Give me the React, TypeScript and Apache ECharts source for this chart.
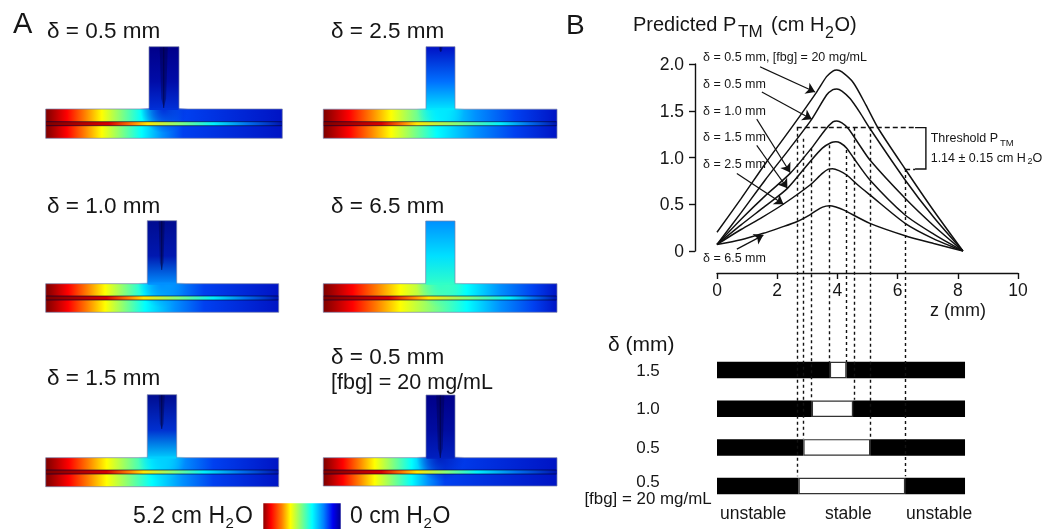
import React, { useEffect, useRef } from "react";
import * as echarts from "echarts";

const SANS = '"Liberation Sans", Arial, sans-serif';
const INK = "#161616";

// ---- Panel B, curves: [z (mm), predicted P_TM (cm H2O)]
const curveFbg = [[0,0.2],[0.8,0.56],[1.66,0.96],[2.5,1.33],[3.31,1.7],[3.64,1.865],[3.85,1.925],[3.98,1.936],[4.15,1.915],[4.53,1.8],[4.95,1.56],[5.36,1.31],[6.25,0.877],[7.2,0.43],[8.17,0]];
const curve05 = [[0,0.07],[0.8,0.41],[1.6,0.76],[2.4,1.09],[3.15,1.41],[3.64,1.668],[3.85,1.725],[3.98,1.733],[4.15,1.71],[4.42,1.63],[4.75,1.48],[5.08,1.31],[6.25,0.76],[7.2,0.36],[8.17,0]];
const curve10 = [[0,0.07],[0.8,0.34],[1.6,0.59],[2.43,0.83],[3.14,1.1],[3.59,1.294],[3.85,1.38],[3.98,1.39],[4.15,1.37],[4.36,1.31],[4.7,1.15],[5.08,0.973],[6.25,0.564],[7.2,0.27],[8.17,0]];
const curve15 = [[0,0.07],[0.8,0.28],[1.6,0.48],[2.34,0.67],[3.09,0.955],[3.5,1.1],[3.8,1.16],[3.95,1.169],[4.1,1.155],[4.31,1.1],[4.55,0.99],[5.08,0.76],[6.25,0.385],[7.2,0.18],[8.17,0]];
const curve25 = [[0,0.07],[0.8,0.23],[1.5,0.36],[2.2,0.5],[3.09,0.706],[3.5,0.83],[3.7,0.875],[3.84,0.88],[4.05,0.86],[4.31,0.813],[4.7,0.7],[5.08,0.6],[6.25,0.296],[7.2,0.13],[8.17,0]];
const curve65 = [[0,0.07],[0.8,0.12],[1.54,0.189],[2.1,0.25],[2.65,0.313],[3.1,0.39],[3.42,0.456],[3.62,0.48],[3.75,0.485],[3.95,0.47],[4.2,0.44],[5.08,0.296],[6.25,0.164],[7.2,0.08],[8.17,0]];
const curves = [curveFbg, curve05, curve10, curve15, curve25, curve65];

const yTicks = ["0", "0.5", "1.0", "1.5", "2.0"];
const thresholdHigh = 1.319;
const thresholdLow = 0.877;

// z, top P, bottom (below the axis, in the same scale)
const dropLines = [[2.65,1.319,-2.41],[2.86,1.2,-2.01],[3.13,1.1,-1.59],[3.72,1.13,-1.19],[4.3,1.08,-1.19],[4.55,1.319,-1.59],[5.08,1.319,-2.01],[6.25,0.877,-2.41]];

// arrows from a label to its curve: z0, P0, z1, P1
const arrows = [[1.43,1.97,3.26,1.7],[1.49,1.7,3.15,1.41],[1.32,1.41,2.43,0.84],[1.32,1.13,2.34,0.67],[0.66,0.83,2.21,0.5],[0.66,0.02,1.54,0.17]];

const curveLabels = ["δ = 0.5 mm, [fbg] = 20 mg/mL", "δ = 0.5 mm", "δ = 1.0 mm", "δ = 1.5 mm", "δ = 2.5 mm", "δ = 6.5 mm"];

// ---- Panel B, stability bars
const barCategories = ["1.5", "1.0", "0.5", "0.5 fbg"];
const stableStart = [3.75, 3.15, 2.87, 2.71];
const stableEnd = [4.3, 4.52, 5.09, 6.25];
const barEnd = 8.24;

// ---- Panel A
const panelTitles = ["δ = 0.5 mm", "δ = 2.5 mm", "δ = 1.0 mm", "δ = 6.5 mm", "δ = 1.5 mm", "δ = 0.5 mm"];
const channelYellow = [0.237, 0.29, 0.255, 0.33, 0.262, 0.22];
const channelCyan = [0.405, 0.486, 0.426, 0.614, 0.455, 0.378];
const channelBlue = [0.58, 0.82, 0.68, 0.9, 0.72, 0.52];
const lumenYellow = [0.43, 0.4, 0.42, 0.45, 0.42, 0.4];
const lumenCyan = [0.71, 0.76, 0.72, 0.8, 0.68, 0.66];
const stemTop = ["#00008a", "#0010c4", "#000c90", "#0090ff", "#000c90", "#00008a"];
const stemMid = ["#000ca8", "#0070ff", "#0018b0", "#00e0ff", "#0030d0", "#000ca0"];
const stemBottom = ["#0030d8", "#00e8ff", "#0090ff", "#30ffc8", "#00d0ff", "#0020c0"];

const layout = [
  { x: 45.7, w: 236.6, y: 109, h: 29.3, sx: 149, sw: 30, st: 46.7, lum: 121.7, tx: 47, ty: 30, tip: [163.7, 108, 8] },
  { x: 323.3, w: 233.7, y: 109.2, h: 29.1, sx: 426, sw: 29, st: 46.7, lum: 121.7, tx: 331, ty: 30, tip: [440.7, 51.7, 4] },
  { x: 45.7, w: 233, y: 283.7, h: 28.6, sx: 147.3, sw: 29.4, st: 220.7, lum: 296, tx: 47, ty: 205, tip: [161.7, 270, 6] },
  { x: 323.3, w: 233.7, y: 283.7, h: 28.6, sx: 425.7, sw: 29.3, st: 221, lum: 296, tx: 331, ty: 205, tip: null },
  { x: 45.7, w: 233, y: 457.7, h: 29, sx: 147.3, sw: 29.4, st: 394.7, lum: 470, tx: 47, ty: 377, tip: [161.7, 429, 6] },
  { x: 323.3, w: 233.7, y: 457.7, h: 28.3, sx: 426, sw: 29, st: 395, lum: 470, tx: 331, ty: 356, tip: [440.3, 458, 8] },
];

const jetStops = (y: number, c: number, b: number) => [
  { offset: 0, color: "#7c0000" },
  { offset: y * 0.38, color: "#ff0000" },
  { offset: y * 0.7, color: "#ff8000" },
  { offset: y, color: "#ffff00" },
  { offset: (y + c) / 2, color: "#80ff80" },
  { offset: c, color: "#00ffff" },
  { offset: (c + b) / 2, color: "#0090ff" },
  { offset: b, color: "#0040f0" },
  { offset: 1, color: "#0014c4" },
];

const linear = (x2: number, y2: number, colorStops: any[]) =>
  new echarts.graphic.LinearGradient(0, 0, x2, y2, colorStops);

const txt = (text: string, x: number, y: number, size: number, extra: any = {}) => ({
  type: "text",
  x,
  y,
  silent: true,
  z: 10,
  style: { text, fontSize: size, fontFamily: SANS, fill: INK, verticalAlign: "middle", align: "left", ...extra },
});

function panelGraphics(i: number) {
  const p: any = layout[i];
  const out: any[] = [];
  out.push({
    type: "rect",
    silent: true,
    shape: { x: p.sx, y: p.st, width: p.sw, height: p.y - p.st + 1 },
    style: {
      fill: linear(0, 1, [
        { offset: 0, color: stemTop[i] },
        { offset: 0.55, color: stemMid[i] },
        { offset: 1, color: stemBottom[i] },
      ]),
      stroke: "rgba(120,130,170,0.7)",
      lineWidth: 1,
    },
  });
  out.push({
    type: "rect",
    silent: true,
    shape: { x: p.x, y: p.y, width: p.w, height: p.h },
    style: {
      fill: linear(1, 0, jetStops(channelYellow[i], channelCyan[i], channelBlue[i])),
      stroke: "rgba(120,130,170,0.7)",
      lineWidth: 1,
    },
  });
  // the stem's colour spreading into the channel under the junction
  const cx = p.sx + p.sw / 2;
  out.push({
    type: "rect",
    silent: true,
    shape: { x: cx - 24, y: p.y - 1, width: 48, height: p.h },
    style: {
      fill: new echarts.graphic.RadialGradient(cx, p.y, 24, [
        { offset: 0, color: stemBottom[i] },
        { offset: 0.5, color: echarts.color.modifyAlpha(stemBottom[i], 0.55) },
        { offset: 1, color: echarts.color.modifyAlpha(stemBottom[i], 0) },
      ], true),
    },
  });
  out.push({
    type: "rect",
    silent: true,
    shape: { x: p.sx + 0.5, y: p.y - 1, width: p.sw - 1, height: 2 },
    style: { fill: stemBottom[i] },
  });
  // lumen
  const ly = lumenYellow[i];
  const lc = lumenCyan[i];
  out.push({
    type: "rect",
    silent: true,
    shape: { x: p.x + 0.5, y: p.lum, width: p.w - 1, height: 4 },
    style: {
      fill: linear(1, 0, [
        { offset: 0, color: "#7c0000" },
        { offset: ly * 0.62, color: "#d80000" },
        { offset: ly * 0.85, color: "#ff8000" },
        { offset: ly, color: "#ffe800" },
        { offset: (ly + lc) / 2, color: "#80ff80" },
        { offset: lc, color: "#00f0ff" },
        { offset: (lc + 1) / 2, color: "#0070f0" },
        { offset: 1, color: "#0014b0" },
      ]),
    },
  });
  [p.lum, p.lum + 4].forEach((ly2: number) =>
    out.push({
      type: "line",
      silent: true,
      shape: { x1: p.x + 0.5, y1: ly2, x2: p.x + p.w - 0.5, y2: ly2 },
      style: { stroke: "rgba(0,0,50,0.62)", lineWidth: 1 },
    })
  );
  if (p.tip) {
    const [tx, ty, tw] = p.tip;
    out.push({
      type: "polygon",
      silent: true,
      shape: { points: [[tx - tw / 2, p.st + 0.5], [tx + tw / 2, p.st + 0.5], [tx + tw * 0.3, ty - (ty - p.st) * 0.15], [tx, ty], [tx - tw * 0.3, ty - (ty - p.st) * 0.15]] },
      style: { fill: "rgba(0,0,60,0.38)" },
    });
    out.push({
      type: "line",
      silent: true,
      shape: { x1: tx, y1: p.st + 0.5, x2: tx, y2: ty },
      style: { stroke: "rgba(0,0,40,0.45)", lineWidth: 1.2 },
    });
  }
  out.push(txt(panelTitles[i], p.tx, p.ty, 22.5));
  return out;
}

const textGraphics = () => [
  txt("A", 13, 23, 29),
  txt("B", 566, 24, 28),
  txt("[fbg] = 20 mg/mL", 331, 382, 21.5),
  // pressure scale
  txt("5.2 cm H", 133, 515, 23),
  txt("2", 225.5, 522, 15),
  txt("O", 235, 515, 23),
  txt("0 cm H", 350, 515, 23),
  txt("2", 423.5, 522, 15),
  txt("O", 432.5, 515, 23),
  // panel B title
  txt("Predicted P", 633, 24, 20),
  txt("TM", 738, 31, 17),
  txt("(cm H", 771, 24, 20),
  txt("2", 825, 32, 16),
  txt("O)", 834.5, 24, 20),
  txt("z (mm)", 930, 309.5, 18),
  txt("δ (mm)", 608, 343, 21),
  txt("Threshold P", 930.7, 137.7, 12.5),
  txt("TM", 1000, 142, 9.5),
  txt("1.14 ± 0.15 cm H", 930.7, 158.3, 12.5),
  txt("2", 1027.5, 161, 9),
  txt("O", 1032.5, 158.3, 12.5),
  txt("unstable", 720, 513, 17.5),
  txt("stable", 825, 513, 17.5),
  txt("unstable", 906, 513, 17.5),
  ...curveLabels.map((t, i) => txt(t, 703, [57, 84, 111, 137, 164, 258][i], 12.5)),
];

export default function App() {
  const ref = useRef<HTMLDivElement>(null);
  useEffect(() => {
    document.body.style.margin = "0";
    document.body.style.background = "#fff";
    const chart = echarts.init(ref.current!, null, { renderer: "svg" });

    const scale = {
      type: "rect",
      silent: true,
      shape: { x: 263.3, y: 503.3, width: 77.4, height: 25.7 },
      style: {
        fill: linear(1, 0, [
          { offset: 0, color: "#8c0000" },
          { offset: 0.1, color: "#ff0000" },
          { offset: 0.24, color: "#ff8000" },
          { offset: 0.35, color: "#ffff00" },
          { offset: 0.49, color: "#80ff80" },
          { offset: 0.63, color: "#00ffff" },
          { offset: 0.78, color: "#0080ff" },
          { offset: 0.9, color: "#0000f0" },
          { offset: 1, color: "#000090" },
        ]),
      },
    };

    const elements = [
      ...layout.flatMap((_, i) => panelGraphics(i)),
      scale,
      ...textGraphics(),
    ];

    const fineLines = (id: string, data: any[], lineStyle: any, extra: any = {}) => ({
      id,
      type: "lines",
      coordinateSystem: "cartesian2d",
      xAxisIndex: 0,
      yAxisIndex: 0,
      clip: false,
      silent: true,
      z: 4,
      lineStyle: { color: "#111", opacity: 1, curveness: 0, ...lineStyle },
      data,
      ...extra,
    });

    chart.setOption({
      animation: false,
      backgroundColor: "#fff",
      tooltip: { show: false },
      graphic: { elements },
      grid: [
        { left: 717, top: 64, width: 301, height: 187 },
        { left: 717, top: 350.7, width: 301, height: 154.7 },
      ],
      xAxis: [
        {
          gridIndex: 0,
          type: "value",
          min: 0,
          max: 10,
          interval: 2,
          offset: 22,
          position: "bottom",
          splitLine: { show: false },
          axisLine: { show: true, onZero: false, lineStyle: { color: "#111", width: 1.4 } },
          axisTick: { show: true, length: 6, lineStyle: { color: "#111", width: 1.4 } },
          axisLabel: { fontFamily: SANS, fontSize: 17.5, color: INK, margin: 8 },
        },
        { gridIndex: 1, type: "value", min: 0, max: 10, show: false },
      ],
      yAxis: [
        {
          gridIndex: 0,
          type: "value",
          min: 0,
          max: 2,
          interval: 0.5,
          offset: 22,
          position: "left",
          splitLine: { show: false },
          axisLine: { show: true, onZero: false, lineStyle: { color: "#111", width: 1.4 } },
          axisTick: { show: true, length: 6, lineStyle: { color: "#111", width: 1.4 } },
          axisLabel: {
            fontFamily: SANS,
            fontSize: 17.5,
            color: INK,
            margin: 11,
            formatter: (_: number, i: number) => yTicks[i],
          },
        },
        {
          gridIndex: 1,
          type: "category",
          inverse: true,
          data: barCategories,
          splitLine: { show: false },
          axisLine: { show: false },
          axisTick: { show: false },
          axisLabel: {
            show: true,
            interval: 0,
            margin: 69,
            align: "center",
            fontFamily: SANS,
            fontSize: 17,
            color: INK,
            formatter: (v: string, i: number) =>
              i === 3 ? "{c| }\n{a|0.5}\n{b|[fbg] = 20 mg/mL}" : v,
            rich: {
              c: { fontFamily: SANS, fontSize: 6, lineHeight: 8 },
              a: { fontFamily: SANS, fontSize: 17, color: INK, lineHeight: 17 },
              b: { fontFamily: SANS, fontSize: 16.9, color: INK, lineHeight: 17 },
            },
          },
        },
      ],
      series: [
        ...curves.map((c, i) => ({
          id: "curve" + i,
          type: "line",
          xAxisIndex: 0,
          yAxisIndex: 0,
          data: c,
          smooth: 0.25,
          showSymbol: false,
          symbol: "none",
          silent: true,
          z: 3,
          lineStyle: { color: "#111", width: 1.5 },
        })),
        fineLines(
          "drops",
          dropLines.map(([z, a, b]) => ({ coords: [[z, a], [z, b]] })),
          { width: 1.4, type: [3, 3] },
          { symbol: ["none", "none"] }
        ),
        fineLines(
          "thresholds",
          [
            { coords: [[2.65, thresholdHigh], [6.58, thresholdHigh]] },
            { coords: [[6.25, thresholdLow], [6.58, thresholdLow]] },
          ],
          { width: 1.4, type: [5, 3] },
          { symbol: ["none", "none"] }
        ),
        fineLines(
          "bracket",
          [{ coords: [[6.58, thresholdHigh], [6.94, thresholdHigh], [6.94, thresholdLow], [6.58, thresholdLow]] }],
          { width: 1.4 },
          { polyline: true, symbol: ["none", "none"] }
        ),
        fineLines(
          "arrows",
          arrows.map(([a, b, c, d]) => ({ coords: [[a, b], [c, d]] })),
          { width: 1.2 },
          { symbol: ["none", "arrow"], symbolSize: 9 }
        ),
        {
          id: "barUnstableLeft",
          type: "bar",
          xAxisIndex: 1,
          yAxisIndex: 1,
          stack: "b",
          barWidth: 16.5,
          silent: true,
          itemStyle: { color: "#000" },
          data: stableStart,
        },
        {
          id: "barStable",
          type: "bar",
          xAxisIndex: 1,
          yAxisIndex: 1,
          stack: "b",
          barWidth: 16.5,
          silent: true,
          itemStyle: { color: "#fff", borderColor: "#333", borderWidth: 1.2 },
          data: stableEnd.map((e, i) => e - stableStart[i]),
        },
        {
          id: "barUnstableRight",
          type: "bar",
          xAxisIndex: 1,
          yAxisIndex: 1,
          stack: "b",
          barWidth: 16.5,
          silent: true,
          itemStyle: { color: "#000" },
          data: stableEnd.map((e) => barEnd - e),
        },
      ],
    });
    return () => chart.dispose();
  }, []);
  return <div ref={ref} style={{ width: 1050, height: 529, overflow: "hidden", filter: "blur(0.4px)" }} />;
}
